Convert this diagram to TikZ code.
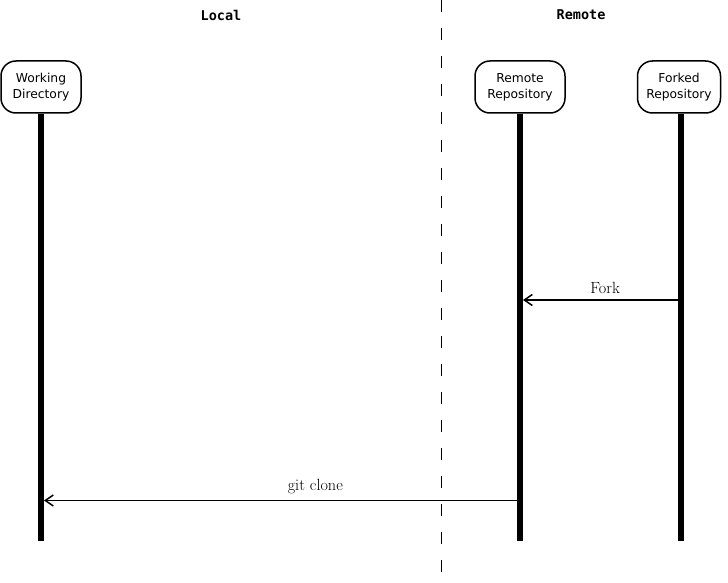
\documentclass[tikz,border=0pt]{standalone}
\usepackage{fontspec}
\newfontfamily\actorfont{DejaVu Sans}
\newfontfamily\headfont{DejaVu Sans Mono}
\usetikzlibrary{arrows.meta,calc,positioning}

\begin{document}
\begin{tikzpicture}[x=1pt,y=-1pt,
                    actor node/.style={draw,line width=1.5pt,rounded corners=15pt,align=center,
                      font=\actorfont\fontsize{12.3}{16}\selectfont,minimum height=52pt,inner xsep=2pt},
                    life line/.style={line width=6pt},
                    msg/.style={line width=1.7pt,-{Straight Barb[length=8pt,width=11pt,line width=1.5pt]}},
                    msg label/.style={font=\fontsize{16.2}{19}\selectfont,above=2.5pt}]
 \useasboundingbox (0,0) rectangle (728,583);

%Sides
 \node[font=\headfont\bfseries\fontsize{13.5}{16}\selectfont] (Local) at (221,15) {Local};
 \node[font=\headfont\bfseries\fontsize{13.5}{16}\selectfont] (Remote) at (581,15) {Remote};
 \coordinate (SplitTop) at (441,0);
 \coordinate (SplitBottom) at (441,575);
 \draw[line width=0.9pt,dash pattern=on 12pt off 16pt] (SplitTop) -- (SplitBottom);

%Actors
 \node[actor node,minimum width=80pt] (Working) at (41,87) {Working\\Directory};
 \node[actor node,minimum width=90pt] (RemoteRepo) at (520,87) {Remote\\Repository};
 \node[actor node,minimum width=83pt] (Forked) at (679,87) {Forked\\Repository};

%Life lines
 \coordinate (WorkingEnd) at (41,541);
 \coordinate (RemoteRepoEnd) at (520,541);
 \coordinate (ForkedEnd) at (681,541);
 \draw[life line] (Working.south) -- (WorkingEnd);
 \draw[life line] (RemoteRepo.south) -- (RemoteRepoEnd);
 \draw[life line] (Forked.south -| ForkedEnd) -- (ForkedEnd);

%Messages
 \coordinate (ForkFrom) at (681,300);
 \coordinate (ForkTo) at (523,300);
 \draw[msg] (ForkFrom) -- node[msg label,pos=0.48] (ForkLabel) {Fork} (ForkTo);

 \coordinate (CloneFrom) at (520,500.5);
 \coordinate (CloneTo) at (44,500.5);
 \draw[msg] (CloneFrom) -- node[msg label,pos=0.43] (CloneLabel) {git clone} (CloneTo);

\end{tikzpicture}
\end{document}
